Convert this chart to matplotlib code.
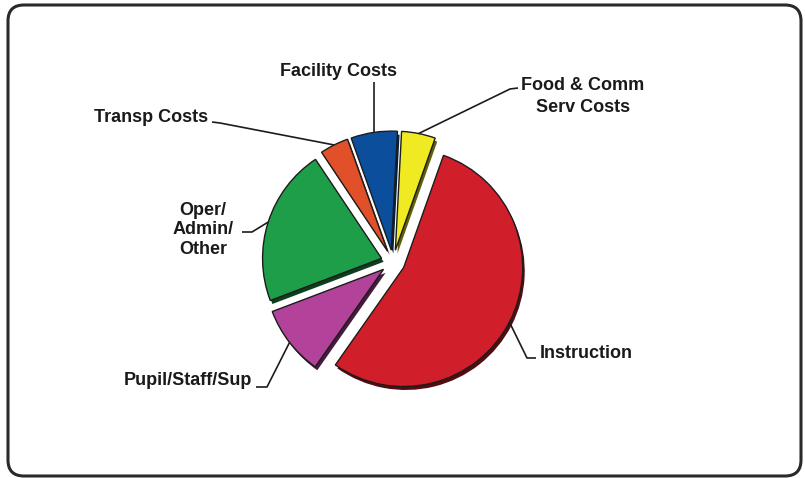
import numpy as np
import matplotlib
matplotlib.use("Agg")
import matplotlib.pyplot as plt
import matplotlib.patheffects as pe
from matplotlib.patches import FancyBboxPatch

# spending by function, percent of total (counter-clockwise from the top)
categories = ["Facility Costs", "Transp Costs", "Oper/\nAdmin/\nOther",
              "Pupil/Staff/Sup", "Instruction", "Food & Comm\nServ Costs"]
shares = [6.3, 3.9, 21.4, 9.5, 54.3, 4.6]
colors = ["#0b4f9c", "#e0512a", "#1f9e4a", "#b2429a", "#d01f2a", "#f0ea22"]

W, H = 805, 478

# label position (px from top-left, baseline of last line), alignment,
# line spacing and elbow of the leader line
label_layout = {
    "Facility Costs": dict(xy=(338, 76), ha="center", ls=1.2, elbow=None),
    "Transp Costs": dict(xy=(208, 122), ha="right", ls=1.2, elbow=[(212, 122), (220, 123)]),
    "Oper/\nAdmin/\nOther": dict(xy=(203, 254), ha="center", ls=1.2, elbow=[(242, 232), (252, 232)]),
    "Pupil/Staff/Sup": dict(xy=(252, 385), ha="right", ls=1.2, elbow=[(256, 387), (267, 387)]),
    "Instruction": dict(xy=(540, 358), ha="left", ls=1.2, elbow=[(536, 358), (527, 358)]),
    "Food & Comm\nServ Costs": dict(xy=(583, 112), ha="center", ls=1.42, elbow=[(518, 88), (510, 89)]),
}

fig = plt.figure(figsize=(W / 100, H / 100), dpi=100)
ax = fig.add_axes([0, 0, 1, 1])

cx, cy, r = 393, H - 262, 119
wedges, _ = ax.pie(shares, colors=colors, startangle=87, counterclock=True,
                   explode=[12] * len(shares), radius=r, center=(cx, cy),
                   wedgeprops=dict(edgecolor="#1c1c1c", linewidth=1.0))
for w in wedges:
    w.set_path_effects([pe.SimplePatchShadow(offset=(1.5, -2.5), alpha=1, rho=0.4),
                        pe.Normal()])

ax.set_xlim(0, W)
ax.set_ylim(0, H)
ax.set_aspect("equal")
ax.axis("off")

for w, name in zip(wedges, categories):
    lay = label_layout[name]
    tx, ty = lay["xy"]
    ax.text(tx, H - ty, name, ha=lay["ha"], va="baseline", fontsize=13,
            fontweight="bold", family="Liberation Sans", color="#1a1a1a",
            linespacing=lay["ls"], multialignment="center")
    mid = np.deg2rad((w.theta1 + w.theta2) / 2)
    ax_, ay_ = w.center[0] + w.r * np.cos(mid), w.center[1] + w.r * np.sin(mid)
    if lay["elbow"] is None:
        xs, ys = [ax_, ax_], [H - 82, ay_]
    else:
        xs = [p[0] for p in lay["elbow"]] + [ax_]
        ys = [H - p[1] for p in lay["elbow"]] + [ay_]
    ax.plot(xs, ys, color="#1c1c1c", lw=1.2, solid_capstyle="butt")

frame = FancyBboxPatch((8, 2), 793, 471, boxstyle="round,pad=0,rounding_size=16",
                       fill=False, ec="#2a2a2a", lw=2.2, clip_on=False,
                       transform=ax.transData)
ax.add_patch(frame)

fig.savefig("out.png", dpi=100, facecolor="white")
